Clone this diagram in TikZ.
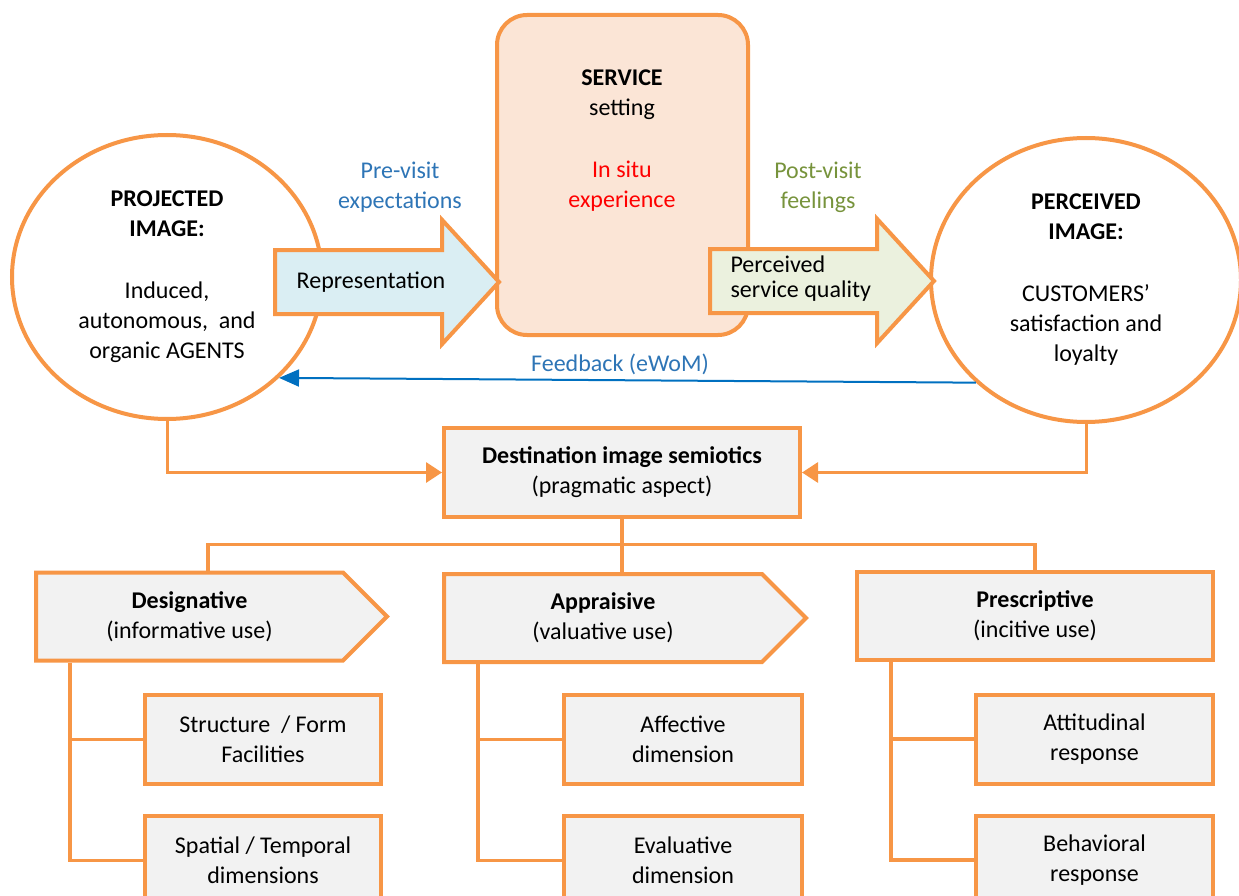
\documentclass[tikz,border=0pt]{standalone}
\usepackage{fontspec}
\setmainfont{Carlito}
\usetikzlibrary{shapes.geometric, shapes.arrows, shapes.symbols, positioning, arrows.meta}
\usetikzlibrary{calc}
\definecolor{orng}{HTML}{F79646}
\definecolor{boxgray}{HTML}{F2F2F2}
\definecolor{lblue}{HTML}{DAEEF3}
\definecolor{lgreen}{HTML}{EBF1DE}
\definecolor{peach}{HTML}{FBE5D6}
\definecolor{txtblue}{HTML}{2E75B6}
\definecolor{fbblue}{HTML}{0070C0}
\definecolor{txtgreen}{HTML}{77933C}

\begin{document}
\begin{tikzpicture}[x=1pt, y=-1pt, font=\fontsize{24}{30}\selectfont,
    image/.style={ellipse, draw=orng, line width=4pt, fill=white, minimum width=310pt, minimum height=284pt, inner sep=0pt, align=center},
    box/.style={rectangle, draw=orng, line width=4pt, fill=boxgray, align=center, inner sep=0pt},
    usebox/.style={signal, signal to=east, signal pointer angle=90, draw=orng, line width=4pt, fill=boxgray, align=center, inner sep=0pt, minimum height=88pt},
    bigarrow/.style={single arrow, draw=orng, line width=4pt, inner sep=0pt, inner ysep=30pt, single arrow head extend=30pt, single arrow tip angle=95, minimum height=224pt, anchor=tail},
    conn/.style={draw=orng, line width=3.5pt},
    tip/.style={-{Triangle[length=16pt,width=20pt]}}]
    \path[use as bounding box, clip] (0,0) rectangle (1239,896);

    \node[image] (proj) at (167,277) {\textbf{PROJECTED}\\\textbf{IMAGE:}\\[32pt]Induced,\\autonomous,~ and\\organic AGENTS};
    \node[image] (perc) at (1086,280) {\textbf{PERCEIVED}\\\textbf{IMAGE:}\\[32pt]CUSTOMERS’\\satisfaction and\\loyalty};
    \node[draw=orng, line width=4pt, fill=peach, rounded corners=30pt, minimum width=251pt, minimum height=320pt] (srv) at (622.5,175) {};
    \node[align=center] (srvtxt) at (622,141) {\textbf{SERVICE}\\setting\\[32pt]\textcolor{red}{In situ}\\\textcolor{red}{experience}};

    \node[bigarrow, fill=lblue] (repr) at (273,282) {};
    \node (reprtxt) at (371,282) {Representation};
    \node[bigarrow, fill=lgreen] (qual) at (708,281) {};
    \node[align=left, anchor=west, font=\fontsize{24}{25}\selectfont] (qualtxt) at (727,279) {Perceived\\service quality};
    \node[align=center, text=txtblue] (pre) at (400,187) {Pre-visit\\expectations};
    \node[align=center, text=txtgreen] (post) at (818,187) {Post-visit\\feelings};

    \draw[fbblue, line width=2pt, -{Triangle[length=20pt,width=17pt]}] (perc.223) -- (proj.318);
    \node[text=txtblue] (fb) at (620,364) {Feedback (eWoM)};

    \node[box, minimum width=356pt, minimum height=89pt] (dest) at (622,472.5) {\textbf{Destination image semiotics}\\(pragmatic aspect)};
    \draw[conn, line width=3pt, tip] (proj.south) |- (dest.west);
    \draw[conn, line width=3pt, tip] (perc.south) |- (dest.east);

    \node[usebox, anchor=west, minimum width=351pt] (desig) at (34,616.5) {\textbf{Designative}\\(informative use)};
    \node[usebox, anchor=west, minimum width=362pt] (appr) at (442,618) {\textbf{Appraisive}\\(valuative use)};
    \node[box, minimum width=356pt, minimum height=88pt] (presc) at (1035,616) {\textbf{Prescriptive}\\(incitive use)};
    \draw[conn] (dest.south) -- (dest.south |- appr.north);
    \draw[conn] ($(desig.west |- desig.north)+(174,0)$) -- ++(0,-26) -| (presc.north);

    \node[box, minimum width=236pt, minimum height=89pt] (struct) at (263,739.5) {Structure~ / Form\\Facilities};
    \node[box, minimum width=236pt, minimum height=89pt, below=28pt of struct] (spat) {Spatial / Temporal\\dimensions};
    \node[box, minimum width=238pt, minimum height=89pt] (affect) at (683,739.5) {Affective\\dimension};
    \node[box, minimum width=238pt, minimum height=89pt, below=28pt of affect] (eval) {Evaluative\\dimension};
    \node[box, minimum width=237pt, minimum height=89pt] (attit) at (1094.5,739) {Attitudinal\\response};
    \node[box, minimum width=237pt, minimum height=89pt, below=28pt of attit] (behav) {Behavioral\\response};

    \foreach \top/\a/\b in {desig/struct/spat, appr/affect/eval, presc/attit/behav}
        \draw[conn] ($(\top.west |- \top.south)+(36,0)$) |- (\a.west)
                    ($(\top.west |- \top.south)+(36,0)$) |- (\b.west);
\end{tikzpicture}
\end{document}
